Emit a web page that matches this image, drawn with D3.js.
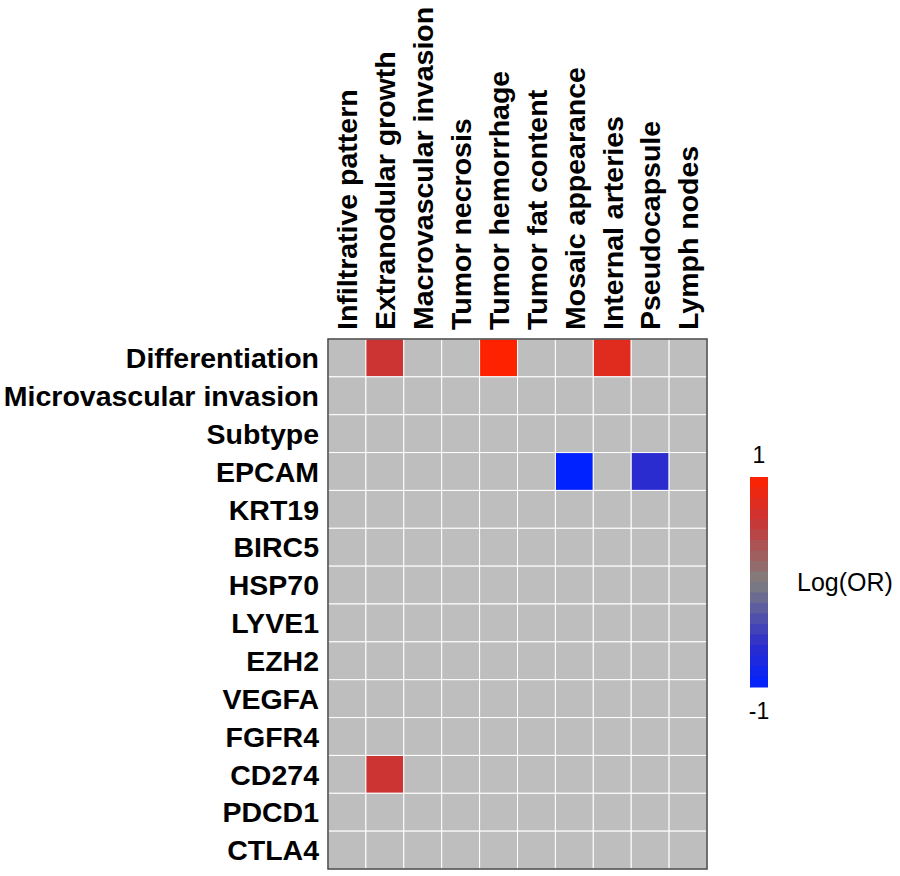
<!DOCTYPE html>
<html>
<head>
<meta charset="utf-8">
<script src="https://cdn.jsdelivr.net/npm/d3@7"></script>
<style>
  body { margin: 0; background: #fff; }
  svg { font-family: "Liberation Sans", Arial, sans-serif; }
</style>
</head>
<body>
<svg width="900" height="876"></svg>
<script>
// data
const features = ['Infiltrative pattern', 'Extranodular growth', 'Macrovascular invasion',
  'Tumor necrosis', 'Tumor hemorrhage', 'Tumor fat content', 'Mosaic appearance',
  'Internal arteries', 'Pseudocapsule', 'Lymph nodes'];
const markers = ['Differentiation', 'Microvascular invasion', 'Subtype', 'EPCAM', 'KRT19',
  'BIRC5', 'HSP70', 'LYVE1', 'EZH2', 'VEGFA', 'FGFR4', 'CD274', 'PDCD1', 'CTLA4'];
// significant log(OR) values only; everything else is NA (grey)
const sigCells = [
  ['Differentiation', 'Extranodular growth', 0.6],
  ['Differentiation', 'Tumor hemorrhage', 1.0],
  ['Differentiation', 'Internal arteries', 0.76],
  ['EPCAM', 'Mosaic appearance', -1.0],
  ['EPCAM', 'Pseudocapsule', -0.62],
  ['CD274', 'Extranodular growth', 0.6],
];
const legendTicks = [1, -1];
const colorStops = [-1, -0.6, 0, 0.6, 1];
const colorRange = ['#0022ff', '#2d2dcc', '#7f7f7f', '#cc3333', '#ff2200'];

// 0. setup
// ----------------------------------
const svg = d3.select('svg');
const margin = {left: 328, top: 339, right: 707, bottom: 869};

const x = d3.scaleBand().domain(features).range([margin.left, margin.right]);
const y = d3.scaleBand().domain(markers).range([margin.top, margin.bottom]);
const color = d3.scaleLinear().domain(colorStops).range(colorRange);

const lookup = new Map(sigCells.map((d) => [d[0] + '|' + d[1], d[2]]));
const cells = [];
markers.forEach((m) => features.forEach((f) => {
  const v = lookup.get(m + '|' + f);
  cells.push({m, f, v: v === undefined ? null : v});
}));

// 1. cells
// ----------------------------------
const panel = svg.append('g').classed('panel', true);

panel.selectAll('.cell')
    .data(cells)
    .enter()
    .append('rect')
    .classed('cell', true)
    .attr('x', (d) => x(d.f))
    .attr('y', (d) => y(d.m))
    .attr('width', x.bandwidth())
    .attr('height', y.bandwidth())
    .style('fill', (d) => d.v === null ? '#bebebe' : color(d.v))
    .style('stroke', '#ffffff')
    .style('stroke-width', 1);

panel.append('rect')
    .attr('x', margin.left)
    .attr('y', margin.top)
    .attr('width', margin.right - margin.left)
    .attr('height', margin.bottom - margin.top)
    .style('fill', 'none')
    .style('stroke', '#444444')
    .style('stroke-width', 1.5);

// 2. labels
// ----------------------------------
svg.append('g').selectAll('text')
    .data(markers)
    .enter()
    .append('text')
    .attr('x', margin.left - 9)
    .attr('y', (d) => y(d) + y.bandwidth() / 2)
    .attr('dy', '0.36em')
    .attr('text-anchor', 'end')
    .style('font-size', '28.5px')
    .style('font-weight', 'bold')
    .text((d) => d);

svg.append('g').selectAll('text')
    .data(features)
    .enter()
    .append('text')
    .attr('transform', (d) =>
      `translate(${x(d) + x.bandwidth() / 2},${margin.top - 9}) rotate(-90)`)
    .attr('dy', '0.36em')
    .attr('text-anchor', 'start')
    .style('font-size', '28.5px')
    .style('font-weight', 'bold')
    .text((d) => d);

// 3. legend
// ----------------------------------
const bar = {x: 750, w: 18, top: 477, bottom: 687};
const ly = d3.scaleLinear().domain([1, -1]).range([bar.top, bar.bottom]);
const nbin = 20;
const bins = d3.range(nbin).map((i) => 1 - 2 * i / nbin);
const legend = svg.append('g').classed('legend', true);

legend.selectAll('rect')
    .data(bins)
    .enter()
    .append('rect')
    .attr('x', bar.x)
    .attr('y', (d) => ly(d))
    .attr('width', bar.w)
    .attr('height', ly(1 - 2 / nbin) - ly(1) + 0.5)
    .style('fill', (d) => color(d - 1 / nbin));

legend.selectAll('.tick')
    .data(legendTicks)
    .enter()
    .append('text')
    .classed('tick', true)
    .attr('x', bar.x + bar.w / 2)
    .attr('y', (d) => d > 0 ? ly(d) - 22 : ly(d) + 24)
    .attr('dy', '0.36em')
    .attr('text-anchor', 'middle')
    .style('font-size', '23px')
    .text((d) => d);

legend.append('text')
    .attr('x', 797)
    .attr('y', ly(0))
    .attr('dy', '0.36em')
    .style('font-size', '25px')
    .text('Log(OR)');
</script>
</body>
</html>
